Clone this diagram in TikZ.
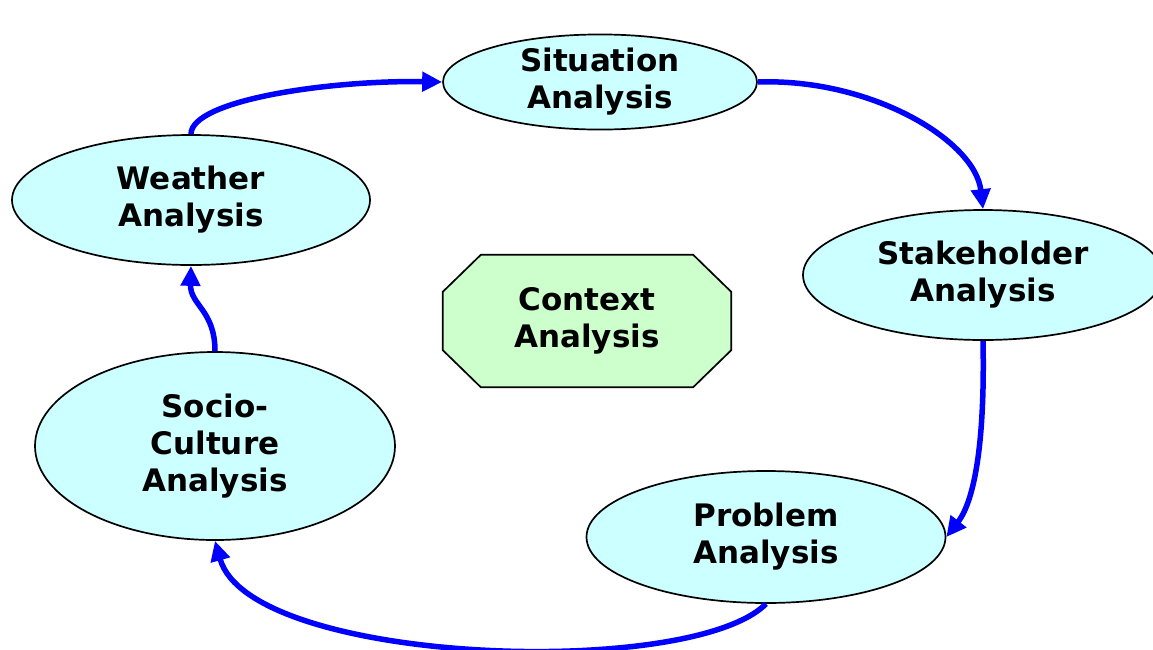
\documentclass[tikz,border=0pt]{standalone}
\usepackage{fontspec}
\setmainfont{DejaVu Sans}
\usetikzlibrary{shapes.geometric,arrows.meta,calc}
\definecolor{ellfill}{RGB}{204,255,255}
\definecolor{ctxfill}{RGB}{204,255,204}
\definecolor{arrblue}{RGB}{0,0,255}
\tikzset{
  lbl/.style={inner sep=0pt, align=center, font=\fontsize{31}{37}\selectfont\bfseries},
  ell/.style={ellipse, draw=black, line width=1.7pt, fill=ellfill, lbl},
  ctxbox/.style={rectangle, lbl, minimum width=288pt, minimum height=132pt},
  octo/.style={draw=black, line width=1.7pt, fill=ctxfill},
  flow/.style={draw=arrblue, line width=5.5pt, -{Triangle[length=20pt,width=19pt]}}
}
\begin{document}
\begin{tikzpicture}[x=1pt,y=-1pt]
\useasboundingbox (0,0) rectangle (1153,649);
\node[ell, minimum width=314pt, minimum height=80pt] (sit) at (600,82) {Situation\\Analysis};
\node[ell, minimum width=358pt, minimum height=130pt] (wea) at (191,200) {Weather\\Analysis};
\node[ell, minimum width=360pt, minimum height=130pt] (sta) at (983,275) {Stakeholder\\Analysis};
\node[ctxbox] (con) at (587,321) {};
\draw[octo] ($(con.north west)+(38,0)$) -- ($(con.north east)+(-38,0)$) -- ($(con.north east)+(0,37)$)
  -- ($(con.south east)+(0,-37)$) -- ($(con.south east)+(-38,0)$) -- ($(con.south west)+(38,0)$)
  -- ($(con.south west)+(0,-37)$) -- ($(con.north west)+(0,37)$) -- cycle;
\node[lbl] (contxt) at (con.center) {Context\\Analysis};
\node[ell, minimum width=360pt, minimum height=188pt] (soc) at (215,446) {Socio-\\Culture\\Analysis};
\node[ell, minimum width=359pt, minimum height=132pt] (pro) at (766,537) {Problem\\Analysis};
\draw[flow] (wea.north) .. controls (191,100) and (330,80) .. (sit.west);
\draw[flow] (sit.east) .. controls (870,78) and (975,140) .. (sta.north);
\draw[flow] (sta.south) .. controls (985,440) and (975,500) .. (pro.east);
\draw[flow] (pro.south) .. controls (690,680) and (250,665) .. (soc.south);
\draw[flow] (soc.north) .. controls (215,310) and (190,305) .. (wea.south);
\end{tikzpicture}
\end{document}
